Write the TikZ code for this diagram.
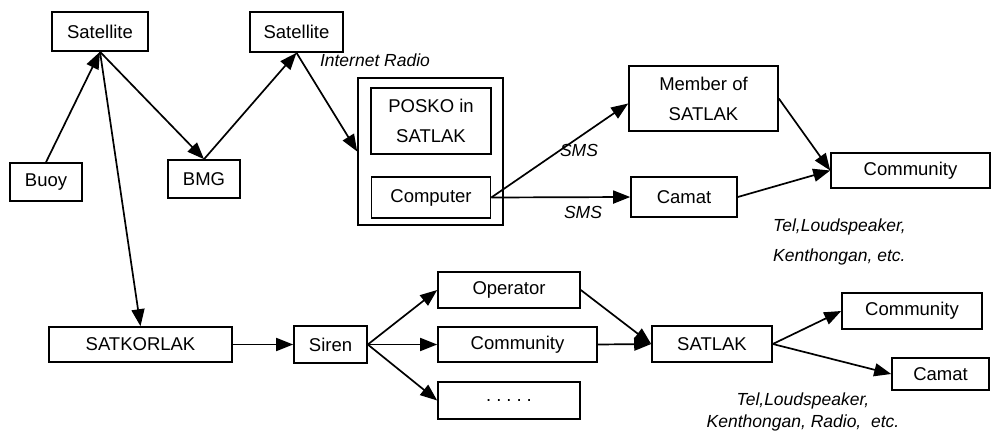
\documentclass[tikz,border=0pt]{standalone}
\usepackage{fontspec}
\setmainfont{Liberation Sans}
\usepackage{tikz}
\usetikzlibrary{shapes.geometric,arrows.meta,calc,positioning}
\tikzstyle{box} = [rectangle, draw=black, line width=1.6pt, inner sep=0pt,
align=center, font=\fontsize{18.5}{30}\selectfont]
\tikzstyle{note} = [inner sep=0pt, font=\fontsize{17.5}{20}\selectfont\itshape]
\tikzstyle{arrow} = [line width=1.7pt,-{Triangle[length=17pt,width=13pt]}]

\begin{document}
\begin{tikzpicture}[x=1pt, y=-1pt]
            \useasboundingbox (0,0) rectangle (992,441);
            % warning path via satellite
            \node (sat1) at (100,31.5) [box, minimum width=96, minimum height=39] {Satellite};
            \node (sat2) at (296.5,32) [box, minimum width=93, minimum height=40] {Satellite};
            \node (buoy) at (46,182) [box, minimum width=72, minimum height=38] {Buoy};
            \node (bmg) at (204,179) [box, minimum width=72, minimum height=38] {BMG};
            \node (outer) at (430.5,151.5) [box, minimum width=145, minimum height=147] {};
            \node (posko) at (431,121) [box, minimum width=120, minimum height=66] {POSKO in\\SATLAK};
            \node (comp) at (431,197.5) [box, minimum width=119, minimum height=41] {Computer};
            \node (member) at (703.5,98.5) [box, minimum width=149, minimum height=65] {Member of\\SATLAK};
            \node (camat) at (684,197) [box, minimum width=106, minimum height=40] {Camat};
            \node (comm) at (910.5,170.5) [box, minimum width=159, minimum height=35] {Community};
            \node (radio) at (375,60) [note] {Internet Radio};
            \node (sms1) at (579,150) [note] {SMS};
            \node (sms2) at (583,212) [note] {SMS};
            \node (tel) at (773,227) [note, anchor=west] {Tel,Loudspeaker,};
            \node (kent) at (773,257) [note, anchor=west] {Kenthongan, etc.};
            % siren path
            \node (satkor) at (140.5,344.5) [box, minimum width=183, minimum height=35] {SATKORLAK};
            \node (siren) at (330.5,344.5) [box, minimum width=73, minimum height=37] {Siren};
            \node (oper) at (509,290) [box, minimum width=142, minimum height=36] {Operator};
            \node (commb) at (517.5,344.5) [box, minimum width=159, minimum height=35] {Community};
            \node (dots) at (509,400.5) [box, minimum width=142, minimum height=37] {.\hspace{5pt}.\hspace{5pt}.\hspace{5pt}.\hspace{5pt}.};
            \node (satlak) at (712,344) [box, minimum width=120, minimum height=36] {SATLAK};
            \node (commc) at (912,311) [box, minimum width=140, minimum height=36] {Community};
            \node (camatb) at (940.5,374) [box, minimum width=97, minimum height=32] {Camat};
            \node (telb) at (803,401) [note] {Tel,Loudspeaker,};
            \node (kentb) at (803,423) [note] {Kenthongan, Radio,\ \ etc.};
            \draw [arrow] (buoy.north) -- (sat1.south);
            \draw [arrow] (sat1.south) -- (bmg.north);
            \draw [arrow] (bmg.north) -- (sat2.south);
            \draw [arrow] (sat2.south) -- (outer.west);
            \draw [arrow] (sat1.south) -- (satkor.north);
            \draw [arrow] (comp.east) -- ($(member.west)+(0,5)$);
            \draw [arrow] (comp.east) -- (camat.west);
            \draw [arrow] (member.east) -- (comm.west);
            \draw [arrow] (camat.east) -- (comm.west);
            \draw [arrow] (satkor.east) -- (siren.west);
            \draw [arrow] (siren.east) -- (oper.west);
            \draw [arrow] (siren.east) -- (commb.west);
            \draw [arrow] (siren.east) -- (dots.west);
            \draw [arrow] (oper.east) -- (satlak.west);
            \draw [arrow] (commb.east) -- (satlak.west);
            \draw [arrow] (satlak.east) -- (commc.west);
            \draw [arrow] (satlak.east) -- (camatb.west);
        \end{tikzpicture}
\end{document}
